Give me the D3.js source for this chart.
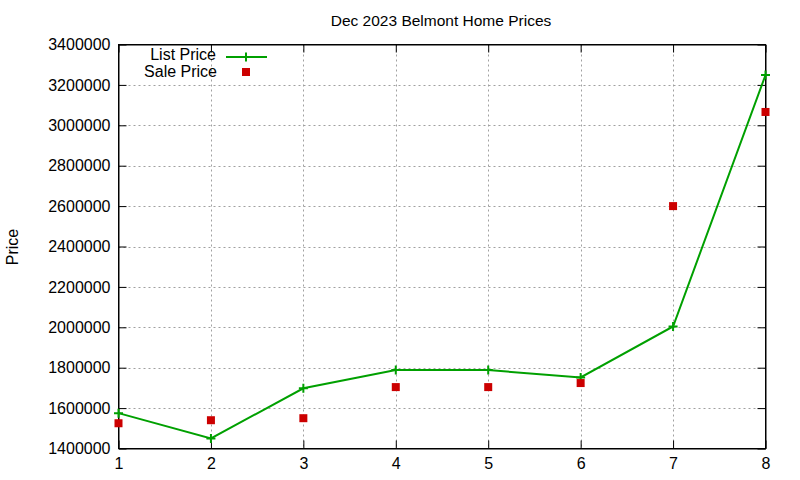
<!DOCTYPE html>
<html><head><meta charset="utf-8">
<script src="https://cdn.jsdelivr.net/npm/d3@7"></script>
<style>body{margin:0;background:#fff}svg{display:block}text{font-family:"Liberation Sans",Arial,sans-serif;fill:#000}</style>
</head><body><svg id="c" width="800" height="480"></svg>
<script>
const categories = [1,2,3,4,5,6,7,8];
const listPrice = [1575000,1450000,1698000,1788000,1788000,1752000,2004000,3249000];
const salePrice = [1525000,1540000,1550000,1704000,1704000,1724000,2600000,3066000];
const yTicks = [1400000,1600000,1800000,2000000,2200000,2400000,2600000,2800000,3000000,3200000,3400000];

const svg = d3.select("#c");
const L=118.5,R=765.5,T=44.5,B=448.5;
const x = d3.scaleLinear().domain([1,8]).range([L,R]);
const y = d3.scaleLinear().domain([1400000,3400000]).range([B,T]);

// grid
svg.append("g").selectAll("line").data(yTicks.slice(1,-1)).join("line")
  .attr("x1",L).attr("x2",R).attr("y1",d=>Math.round(y(d))+0.5).attr("y2",d=>Math.round(y(d))+0.5)
  .attr("stroke","#a0a0a0").attr("stroke-dasharray","2,3");
svg.append("g").selectAll("line").data(categories.slice(1,-1)).join("line")
  .attr("y1",T).attr("y2",B).attr("x1",d=>Math.round(x(d))+0.5).attr("x2",d=>Math.round(x(d))+0.5)
  .attr("stroke","#a0a0a0").attr("stroke-dasharray","2,3");

// axes
const fmt = d3.format("d");
const ya = svg.append("g").attr("transform",`translate(${L},0)`)
  .call(d3.axisLeft(y).tickValues(yTicks).tickFormat(fmt).tickSizeInner(-8).tickSizeOuter(0).tickPadding(16));
svg.append("g").attr("transform",`translate(${R},0)`)
  .call(d3.axisRight(y).tickValues(yTicks).tickFormat("").tickSizeInner(-8).tickSizeOuter(0));
const xa = svg.append("g").attr("transform",`translate(0,${B})`)
  .call(d3.axisBottom(x).tickValues(categories).tickFormat(fmt).tickSizeInner(-8).tickSizeOuter(0).tickPadding(22));
svg.append("g").attr("transform",`translate(0,${T})`)
  .call(d3.axisTop(x).tickValues(categories).tickFormat("").tickSizeInner(-8).tickSizeOuter(0));
svg.selectAll(".domain").attr("stroke","#000").attr("stroke-width",1);
svg.selectAll(".tick line").attr("stroke","#000");
ya.selectAll("text").attr("font-size",16).attr("font-family","Liberation Sans, Arial, sans-serif").attr("dx",8);
xa.selectAll("text").attr("font-size",16).attr("font-family","Liberation Sans, Arial, sans-serif").attr("dy","-0.1em");
svg.append("rect").attr("x",L).attr("y",T).attr("width",R-L).attr("height",B-T).attr("fill","none").attr("stroke","#000");

// list line
const line = d3.line().x((d,i)=>x(categories[i])).y(d=>y(d));
svg.append("path").datum(listPrice).attr("d",line).attr("fill","none").attr("stroke","#00a000").attr("stroke-width",2);
const plus = (g,cx,cy,s)=>g.append("path").attr("d",`M${cx-s},${cy}H${cx+s}M${cx},${cy-s}V${cy+s}`).attr("stroke","#00a000").attr("stroke-width",2);
listPrice.forEach((d,i)=>plus(svg,x(categories[i]),y(d),4.5));

// sale points
svg.append("g").selectAll("rect").data(salePrice).join("rect")
  .attr("x",(d,i)=>x(categories[i])-4).attr("y",d=>y(d)-4).attr("width",8).attr("height",8).attr("fill","#cc0000");

// legend
svg.append("text").attr("x",216).attr("y",60).attr("text-anchor","end").attr("font-size",16).text("List Price");
svg.append("line").attr("x1",226).attr("x2",267).attr("y1",57).attr("y2",57).attr("stroke","#00a000").attr("stroke-width",2);
plus(svg,246,57,4.5);
svg.append("text").attr("x",217).attr("y",77).attr("text-anchor","end").attr("font-size",16).text("Sale Price");
svg.append("rect").attr("x",242).attr("y",68).attr("width",8).attr("height",8).attr("fill","#cc0000");

// title and label
svg.append("text").attr("x",441).attr("y",26).attr("text-anchor","middle").attr("font-size",15.5).text("Dec 2023 Belmont Home Prices");
svg.append("text").attr("transform","translate(18,247) rotate(-90)").attr("text-anchor","middle").attr("font-size",16).text("Price");
</script></body></html>
